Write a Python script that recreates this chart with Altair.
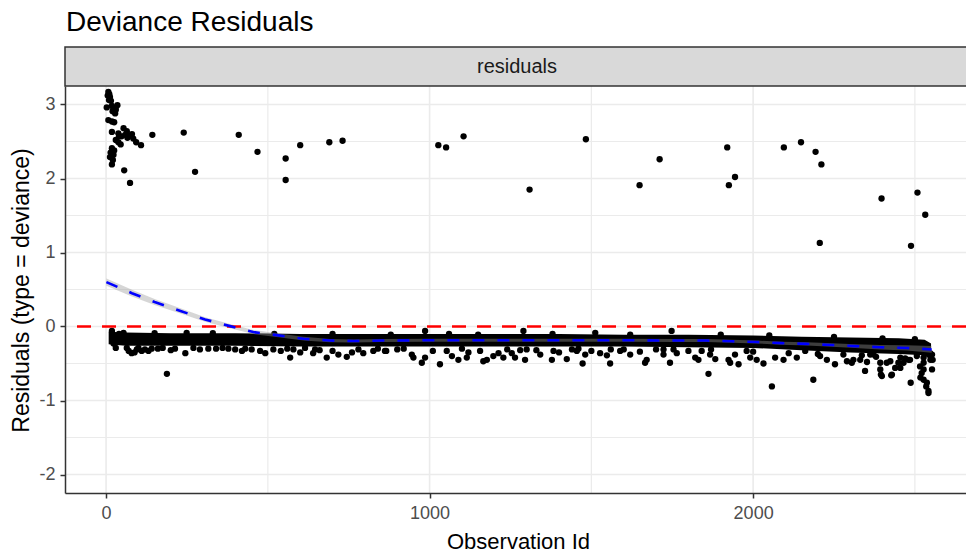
import altair as alt
import pandas as pd

FONT = "Liberation Sans, Arial, sans-serif"

# ---- data ----
# large positive residuals (observation id, residual)
hi_pts = [(7, 3.17), (10, 3.14), (12, 3.10), (15, 3.05), (5, 3.12), (9, 3.06), (2, 2.96), (18, 2.98),
          (28, 2.95), (35, 2.99), (20, 2.91), (28, 2.88), (30, 2.93), (7, 2.79), (18, 2.77), (25, 2.76),
          (18, 2.63), (38, 2.61), (54, 2.68), (64, 2.64), (48, 2.57), (59, 2.59), (74, 2.58), (84, 2.54),
          (93, 2.49), (108, 2.45), (143, 2.59), (38, 2.49), (45, 2.46), (40, 2.57), (66, 2.55), (80, 2.60),
          (30, 2.52), (18, 2.41), (23, 2.32), (12, 2.29), (21, 2.25), (18, 2.19), (14, 2.35), (25, 2.38),
          (56, 2.11), (74, 1.94), (240, 2.62), (275, 2.09), (410, 2.59), (468, 2.36), (555, 2.27),
          (555, 1.98), (600, 2.45), (690, 2.49), (731, 2.51), (1027, 2.45), (1051, 2.42), (1105, 2.57),
          (1309, 1.85), (1483, 2.53), (1649, 1.91), (1711, 2.26), (1920, 2.42), (1925, 1.91), (1944, 2.02),
          (2095, 2.42), (2148, 2.49), (2193, 2.36), (2211, 2.19), (2206, 1.13), (2397, 1.73), (2508, 1.81),
          (2532, 1.51), (2488, 1.09)]

# scattered points around the dense negative band
lo_pts = [(18, -0.06), (54, -0.085), (249, -0.085), (986, -0.06), (1290, -0.06), (1512, -0.085), (1748, -0.06),
          (23, -0.23), (64, -0.29), (79, -0.36), (95, -0.31), (110, -0.33), (131, -0.33), (141, -0.30),
          (188, -0.64), (213, -0.30), (245, -0.36), (316, -0.30), (378, -0.30), (399, -0.31), (476, -0.33),
          (492, -0.36), (517, -0.31), (569, -0.42), (579, -0.31), (615, -0.29), (646, -0.31), (682, -0.42),
          (718, -0.38), (744, -0.41), (795, -0.36), (826, -0.33), (862, -0.33),
          (70, -0.33), (88, -0.35), (100, -0.29), (120, -0.31), (160, -0.30), (175, -0.29), (270, -0.29),
          (290, -0.31), (340, -0.30), (360, -0.29), (430, -0.30), (450, -0.31), (540, -0.33), (600, -0.35),
          (640, -0.36), (700, -0.33), (760, -0.35), (780, -0.31), (840, -0.30),
          (866, -0.33), (945, -0.38), (950, -0.42), (976, -0.49), (986, -0.42), (1032, -0.51), (1053, -0.33),
          (1069, -0.40), (1089, -0.45), (1115, -0.42), (1156, -0.33), (1166, -0.47), (1177, -0.45),
          (1197, -0.40), (1213, -0.36), (1228, -0.42), (1254, -0.36), (1264, -0.42), (1295, -0.45),
          (1300, -0.31), (1342, -0.38), (1378, -0.45), (1383, -0.33), (1424, -0.44), (1455, -0.33),
          (1473, -0.50), (1481, -0.38), (1527, -0.36), (1548, -0.39), (1558, -0.50), (1589, -0.33),
          (1620, -0.38), (1666, -0.49), (1671, -0.45), (1723, -0.31), (1743, -0.49), (1764, -0.36),
          (900, -0.31), (1010, -0.33), (1120, -0.35), (1240, -0.31), (1330, -0.32), (1400, -0.35),
          (1440, -0.31), (1500, -0.33), (1600, -0.31), (1650, -0.34), (1700, -0.31),
          (1723, -0.38), (1754, -0.31), (1821, -0.42), (1831, -0.45), (1841, -0.33), (1862, -0.64),
          (1867, -0.38), (1883, -0.44), (1924, -0.45), (1929, -0.49), (1944, -0.38), (1955, -0.51),
          (1980, -0.33), (1991, -0.42), (2011, -0.45), (2032, -0.50), (2058, -0.81), (2068, -0.42),
          (2094, -0.45), (2135, -0.42), (2161, -0.33), (2186, -0.72), (2207, -0.40), (2228, -0.45),
          (2253, -0.51), (2279, -0.38), (2310, -0.45), (2336, -0.39), (2346, -0.60), (2362, -0.38),
          (2393, -0.58), (2398, -0.67), (2424, -0.47), (2429, -0.65), (2449, -0.49), (2455, -0.42),
          (2480, -0.45), (2487, -0.76), (2506, -0.36), (2517, -0.69), (2527, -0.58), (2537, -0.76),
          (2542, -0.87), (2527, -0.49), (2548, -0.45), (2553, -0.38), (2542, -0.90), (2535, -0.81),
          (2527, -0.72), (2521, -0.63), (2516, -0.54), (2553, -0.58), (2555, -0.45), (2547, -0.36),
          (2455, -0.56), (2427, -0.66), (2395, -0.65), (2290, -0.47), (2305, -0.49), (2331, -0.45),
          (2352, -0.48), (2372, -0.38), (2393, -0.49), (2413, -0.49), (2439, -0.56), (2465, -0.49),
          (2485, -0.45), (2506, -0.40), (2527, -0.42),
          # ragged edges of the band
          (40, -0.10), (150, -0.09), (330, -0.09), (520, -0.10), (700, -0.10), (880, -0.11), (1060, -0.10),
          (1150, -0.11), (1380, -0.10), (1620, -0.11), (1900, -0.11), (2050, -0.12), (2250, -0.14),
          (2400, -0.16), (2500, -0.17), (30, -0.29), (200, -0.32), (420, -0.33), (560, -0.30), (660, -0.32),
          (920, -0.30), (1100, -0.30), (1280, -0.32), (1460, -0.30), (1560, -0.31), (1800, -0.33),
          (1870, -0.31), (2000, -0.34), (2110, -0.36), (2200, -0.37), (2380, -0.41), (2470, -0.43)]

# the solid core of the overplotted band (upper / lower edge)
core_x = [8, 60, 200, 400, 600, 800, 1000, 1200, 1400, 1600, 1800, 2000, 2150, 2300, 2450, 2530, 2550]
core_up = [-0.07, -0.08, -0.09, -0.09, -0.10, -0.10, -0.10, -0.10, -0.10, -0.11, -0.11, -0.12, -0.14,
           -0.15, -0.16, -0.18, -0.23]
core_lo = [-0.24, -0.26, -0.26, -0.26, -0.27, -0.27, -0.27, -0.27, -0.27, -0.27, -0.28, -0.29, -0.32,
           -0.35, -0.37, -0.39, -0.46]

# smoother and its standard-error half width
sm_x = [1, 80, 150, 230, 306, 383, 455, 533, 610, 692, 765, 850, 1000, 1200, 1400, 1600, 1764, 1857,
        1934, 2011, 2089, 2166, 2243, 2315, 2393, 2475, 2552]
sm_y = [0.60, 0.45, 0.33, 0.21, 0.095, 0.005, -0.075, -0.12, -0.165, -0.19, -0.195, -0.19, -0.185,
        -0.185, -0.185, -0.185, -0.19, -0.19, -0.20, -0.21, -0.225, -0.235, -0.25, -0.265, -0.28, -0.29, -0.31]
sm_se = [0.05, 0.045, 0.04, 0.035, 0.03, 0.03, 0.028, 0.025, 0.025, 0.022, 0.02, 0.02, 0.02, 0.02, 0.02,
         0.02, 0.02, 0.02, 0.02, 0.02, 0.02, 0.022, 0.024, 0.026, 0.03, 0.035, 0.045]

hline = [0]
x_major = [0, 1000, 2000]
x_minor = [500, 1500, 2500]
y_major = [-2, -1, 0, 1, 2, 3]
y_minor = [-1.5, -0.5, 0.5, 1.5, 2.5]
strip_label = ["residuals"]
title_text = ["Deviance Residuals"]

# ---- frames ----
pts = pd.DataFrame(hi_pts + lo_pts, columns=["x", "y"])
core = pd.DataFrame({"x": core_x, "up": core_up, "lo": core_lo})
smooth = pd.DataFrame({"x": sm_x, "y": sm_y,
                       "ymin": [a - b for a, b in zip(sm_y, sm_se)],
                       "ymax": [a + b for a, b in zip(sm_y, sm_se)]})

W, H = 901, 407
xs = alt.Scale(domain=[-127, 2658], nice=False, zero=False)
ys = alt.Scale(domain=[-2.25, 3.25], nice=False, zero=False)

x_axis = alt.Axis(values=x_major, title="Observation Id", grid=False, labelExpr="'' + datum.value",
                  domainColor="#333333", domainWidth=1.5, tickColor="#333333", tickWidth=1.5, tickSize=5,
                  labelColor="#4D4D4D", labelFontSize=18, labelFont=FONT, labelPadding=6,
                  labelFlush=False, labelOverlap=False,
                  titleFont=FONT, titleFontSize=22, titleFontWeight="normal", titleColor="#000000",
                  titleX=453, titleY=55, titleBaseline="alphabetic", titleAlign="center", zindex=1)
y_axis = alt.Axis(values=y_major, title="Residuals (type = deviance)", grid=False, labelExpr="'' + datum.value",
                  domainColor="#333333", domainWidth=1.5, tickColor="#333333", tickWidth=1.5, tickSize=5,
                  labelColor="#4D4D4D", labelFontSize=18, labelFont=FONT, labelPadding=5,
                  labelFlush=False, labelOverlap=False,
                  titleFont=FONT, titleFontSize=23, titleFontWeight="normal", titleColor="#000000",
                  titleAngle=270, titleX=-37, titleY=204, titleBaseline="alphabetic", titleAlign="center",
                  zindex=1)


def X(field):
    return alt.X(field, scale=xs, axis=x_axis)


def Y(field):
    return alt.Y(field, scale=ys, axis=y_axis)


grid_vmin = alt.Chart(pd.DataFrame({"x": x_minor})).mark_rule(color="#EBEBEB", strokeWidth=1.2).encode(
    x=X("x:Q"))
grid_vmaj = alt.Chart(pd.DataFrame({"x": x_major})).mark_rule(color="#EBEBEB", strokeWidth=1.6).encode(
    x=X("x:Q"))
grid_hmin = alt.Chart(pd.DataFrame({"y": y_minor})).mark_rule(color="#EBEBEB", strokeWidth=1.2).encode(
    y=Y("y:Q"))
grid_hmaj = alt.Chart(pd.DataFrame({"y": y_major})).mark_rule(color="#EBEBEB", strokeWidth=1.6).encode(
    y=Y("y:Q"))

points = alt.Chart(pts).mark_circle(size=40, color="black", opacity=1).encode(
    x=X("x:Q"), y=Y("y:Q"))

core_area = alt.Chart(core).mark_area(color="black", opacity=1).encode(
    x=X("x:Q"), y=Y("up:Q"), y2="lo:Q")

ribbon = alt.Chart(smooth).mark_area(color="#999999", opacity=0.4).encode(
    x=X("x:Q"), y=Y("ymax:Q"), y2="ymin:Q")

red = alt.Chart(pd.DataFrame({"y": hline})).mark_rule(color="#FF0000", strokeWidth=2.6,
                                                        strokeDash=[14, 11]).encode(
    y=Y("y:Q"))

blue = alt.Chart(smooth).mark_line(color="#0000FF", strokeWidth=2.6, strokeDash=[12, 13]).encode(
    x=X("x:Q"), y=Y("y:Q"))

strip_df = pd.DataFrame({"label": strip_label})
strip_rect = alt.Chart(strip_df).mark_rect(fill="#D9D9D9", stroke="#333333", strokeWidth=1.5).encode(
    x=alt.value(0), x2=alt.value(W + 20), y=alt.value(-39), y2=alt.value(0))
strip_text = alt.Chart(strip_df).mark_text(font=FONT, fontSize=20, color="#1A1A1A", align="center",
                                           baseline="middle").encode(
    x=alt.value(452), y=alt.value(-19), text="label:N")

title = alt.Chart(pd.DataFrame({"t": title_text})).mark_text(font=FONT, fontSize=28, color="#000000",
                                                             align="left", baseline="alphabetic").encode(
    x=alt.value(1), y=alt.value(-55), text="t:N")

chart = alt.layer(
    grid_vmin, grid_vmaj, grid_hmin, grid_hmaj,
    points, core_area, ribbon, red, blue,
    strip_rect, strip_text, title
).properties(
    width=W, height=H,
    autosize=alt.AutoSizeParams(type="none"),
    padding={"left": 65, "top": 86, "right": 0, "bottom": 60},
    background="white"
).configure_view(strokeWidth=0)

chart.save("out.html", embed_options={"renderer": "svg", "actions": False})
